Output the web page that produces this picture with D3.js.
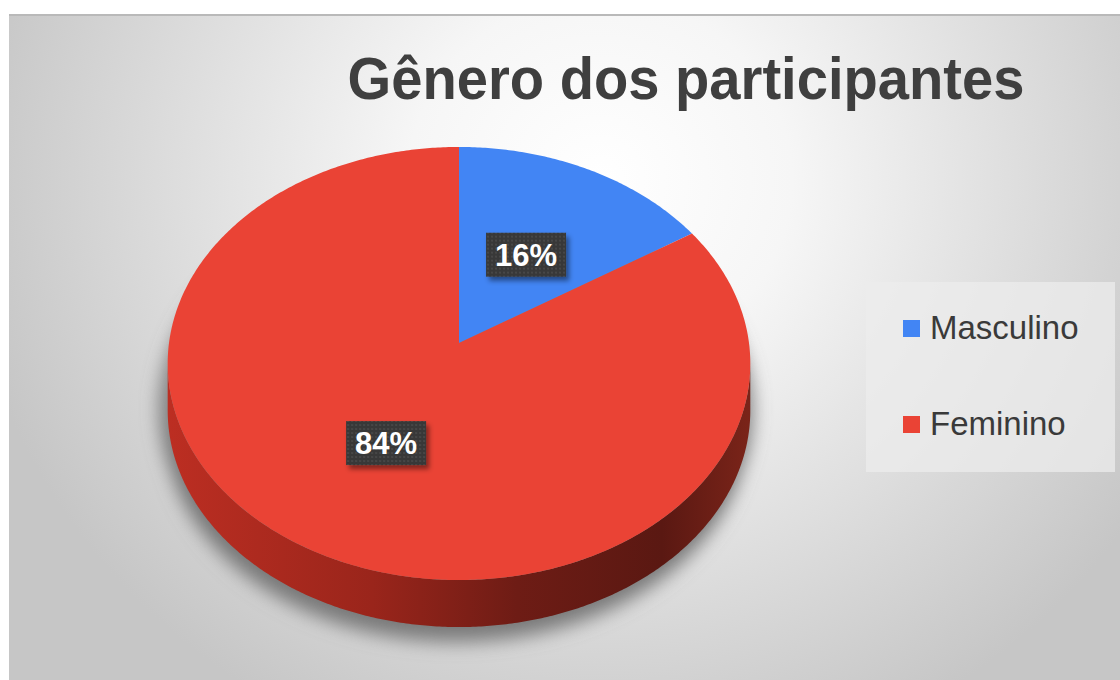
<!DOCTYPE html>
<html>
<head>
<meta charset="utf-8">
<script src="https://cdn.jsdelivr.net/npm/d3@7"></script>
<style>
  html, body { margin: 0; padding: 0; background: #ffffff; }
  svg { display: block; font-family: "Liberation Sans", Arial, sans-serif; }
</style>
</head>
<body>
<div id="chart"></div>
<script>
const titleText = 'Gênero dos participantes';
const categories = ['Masculino', 'Feminino'];
const percents = [16, 84];
const sliceColors = ['#4285f4', '#ea4335'];

const width = 1120;
const height = 680;

// pie geometry (perspective disc)
const cx = 459, cy = 343;
const rx = 290, ry = 214.6;
const persp = 0.0947;
const depth = 47;

const svg = d3.select('#chart').append('svg')
    .attr('width', width)
    .attr('height', height);

const defs = svg.append('defs');

const bg = defs.append('radialGradient')
    .attr('id', 'bg')
    .attr('gradientUnits', 'userSpaceOnUse')
    .attr('cx', 600).attr('cy', 180).attr('r', 640)
    .attr('gradientTransform', 'translate(600,180) scale(1,0.95) translate(-600,-180)');
[[0, '#ffffff'], [0.3, '#f6f6f6'], [0.65, '#dedede'], [1, '#c6c6c6']].forEach(s => {
  bg.append('stop').attr('offset', s[0]).attr('stop-color', s[1]);
});

const sideGrad = defs.append('linearGradient')
    .attr('id', 'side')
    .attr('gradientUnits', 'userSpaceOnUse')
    .attr('x1', cx - rx).attr('x2', cx + rx).attr('y1', 0).attr('y2', 0);
[[0, '#bc2e22'], [0.35, '#9a251b'], [0.6, '#6e1c15'], [0.85, '#5a1812'], [1, '#7a2419']].forEach(s => {
  sideGrad.append('stop').attr('offset', s[0]).attr('stop-color', s[1]);
});

const blur = defs.append('filter').attr('id', 'blur')
    .attr('x', '-20%').attr('y', '-20%').attr('width', '140%').attr('height', '140%');
blur.append('feGaussianBlur').attr('stdDeviation', 9);

const drop = defs.append('filter').attr('id', 'drop')
    .attr('x', '-30%').attr('y', '-30%').attr('width', '160%').attr('height', '160%');
drop.append('feDropShadow').attr('dx', 3).attr('dy', 4).attr('stdDeviation', 2.5)
    .attr('flood-color', '#000').attr('flood-opacity', 0.45);

const dots = defs.append('pattern').attr('id', 'dots')
    .attr('width', 4).attr('height', 4).attr('patternUnits', 'userSpaceOnUse');
dots.append('rect').attr('width', 4).attr('height', 4).attr('fill', '#383838');
dots.append('circle').attr('cx', 2).attr('cy', 2).attr('r', 0.9).attr('fill', '#4d4d4d');

// background
svg.append('rect')
    .attr('x', 9).attr('y', 14)
    .attr('width', width - 9).attr('height', height - 14)
    .attr('fill', 'url(#bg)');
svg.append('rect')
    .attr('x', 9).attr('y', 14)
    .attr('width', width - 9).attr('height', 2)
    .attr('fill', '#b9b9b9');

// title
svg.append('text')
    .text(titleText)
    .attr('x', 686)
    .attr('y', 99)
    .attr('text-anchor', 'middle')
    .attr('textLength', 677)
    .attr('lengthAdjust', 'spacingAndGlyphs')
    .style('font-size', '60px')
    .style('font-weight', 'bold')
    .style('fill', '#3f3f3f');

// projection of a point on the disc (k = radius fraction, a = angle clockwise from top)
function project(k, a, dy = 0) {
  const u = k * Math.sin(a);
  const v = -k * Math.cos(a);
  const den = 1 - persp * v;
  return [cx + rx * u / den, cy + ry * v / den + dy];
}

const pie = d3.pie().sort(null).value(d => d);
const arcs = pie(percents);
const line = d3.line();

// rim samples and front (visible) side
const rim = d3.range(0, 721).map(i => i / 720 * 2 * Math.PI);
const rimPts = rim.map(a => project(1, a));
const iR = d3.maxIndex(rimPts.slice(0, 360), p => p[0]);
const iL = 360 + d3.minIndex(rimPts.slice(360), p => p[0]);
const front = rim.slice(iR, iL + 1);
const sidePts = front.map(a => project(1, a))
    .concat(front.slice().reverse().map(a => project(1, a, depth)));

// shadow under the pie
const shadowPts = rim.map(a => project(1.02, a, depth * 0.6));
svg.append('g')
    .attr('transform', 'translate(-3,16)')
    .attr('filter', 'url(#blur)')
    .selectAll('path')
    .data([shadowPts, sidePts])
    .join('path')
    .attr('d', d => line(d) + 'Z')
    .attr('fill', '#747474')
    .attr('opacity', 0.85);

svg.append('path')
    .attr('d', line(sidePts) + 'Z')
    .attr('fill', 'url(#side)');

// top faces
svg.append('g')
    .selectAll('path')
    .data(arcs)
    .join('path')
    .attr('d', d => {
      const n = Math.max(2, Math.ceil((d.endAngle - d.startAngle) / 0.01));
      const pts = [project(0, 0)].concat(
        d3.range(n + 1).map(i => project(1, d.startAngle + (d.endAngle - d.startAngle) * i / n)));
      return line(pts) + 'Z';
    })
    .attr('fill', (d, i) => sliceColors[i]);

// data labels
const boxW = 80, boxH = 44;
const labels = svg.append('g')
    .selectAll('g')
    .data(arcs)
    .join('g')
    .attr('transform', d => {
      const p = project(0.5, (d.startAngle + d.endAngle) / 2);
      return `translate(${p[0]},${p[1] + 2})`;
    });
labels.append('rect')
    .attr('x', -boxW / 2).attr('y', -boxH / 2)
    .attr('width', boxW).attr('height', boxH)
    .attr('fill', 'url(#dots)')
    .attr('filter', 'url(#drop)');
labels.append('text')
    .text(d => `${d.data}%`)
    .attr('text-anchor', 'middle')
    .attr('y', 11)
    .style('font-size', '31px')
    .style('font-weight', 'bold')
    .style('fill', '#ffffff');

// legend
svg.append('rect')
    .attr('x', 866).attr('y', 282)
    .attr('width', 249).attr('height', 190)
    .attr('fill', '#ececec')
    .attr('opacity', 0.75);

const legendY = d3.scalePoint().domain(categories).range([339, 435]);
const legend = svg.append('g')
    .selectAll('g')
    .data(categories)
    .join('g')
    .attr('transform', d => `translate(0,${legendY(d)})`);
legend.append('rect')
    .attr('x', 903).attr('y', -19)
    .attr('width', 17).attr('height', 17)
    .attr('fill', (d, i) => sliceColors[i]);
legend.append('text')
    .text(d => d)
    .attr('x', 930)
    .style('font-size', '33px')
    .style('fill', '#3a3a3a');
</script>
</body>
</html>
